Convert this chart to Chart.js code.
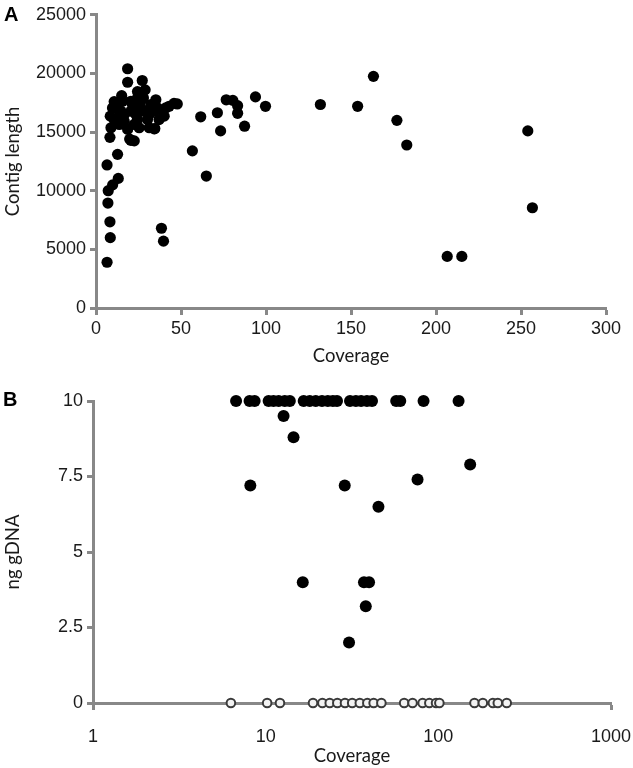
<!DOCTYPE html>
<html lang="en">
<head>
<meta charset="UTF-8">
<title>Coverage vs contig length and gDNA input</title>
<script src="https://cdn.jsdelivr.net/npm/chart.js"></script>
<style>
  body { margin: 0; background: #fff; }
  .page { position: relative; width: 633px; height: 768px; overflow: hidden; }
  .panel { position: absolute; left: 0; }
  #panelA { top: 0; }
  #panelB { top: 370px; }
  .tag {
    position: absolute;
    font-family: 'Liberation Sans', Arial, sans-serif;
    font-weight: bold;
    font-size: 20px;
    color: #000;
    line-height: 1;
  }
</style>
</head>
<body>
<div class="page">
  <canvas id="panelA" class="panel" width="633" height="370"></canvas>
  <canvas id="panelB" class="panel" width="633" height="398"></canvas>
  <div class="tag" style="left:4px; top:4px;">A</div>
  <div class="tag" style="left:3px; top:389px;">B</div>
</div>

<script>
// Panel A: coverage vs contig length
const coverageA = [
  6.5, 8.4, 8.2, 7.0, 7.2, 9.8, 13.1, 6.5, 12.7, 8.2,
  38.5, 39.7,
  18.6, 18.6, 27.2, 28.9, 24.4, 15.1, 10.7, 35.2, 45.9, 47.8, 19.8, 22.5, 34.6,
  9.7, 8.4, 8.8, 12.7, 14.7, 16.6, 20.5, 21.5, 23.5, 26.4, 28.3, 30.3, 31.3, 34.2,
  36.2, 39.1, 41.0, 43.0, 40.1, 37.1, 31.3, 25.4, 22.5, 18.6, 26.4, 20.5, 13.7,
  16.6, 13.7, 10.7, 24.4, 32.3, 12.7, 15.6, 27.9, 24.4, 20.5, 34.2,
  56.7, 61.6, 64.9, 71.4, 73.3, 76.6, 80.5, 83.3, 83.3, 87.4, 93.8, 99.7,
  132, 153.9, 163.2, 177, 182.8, 206.6, 215.2, 254, 256.7
];
const contigLength = [
  3900, 6000, 7350, 8950, 10000, 10500, 11050, 12200, 13100, 14550,
  6800, 5700,
  20400, 19250, 19400, 18600, 18450, 18100, 17600, 17750, 17450, 17400, 14400, 14250, 15300,
  17060, 16360, 15370, 16210, 16780, 16500, 16780, 17340, 16500, 17060, 16780, 16070, 16500, 16780,
  17060, 16780, 17060, 17200, 16360, 16070, 15370, 15370, 15650, 15230, 17630, 17630, 17490,
  15930, 15650, 16070, 16070, 17340, 17060, 17630, 17900, 17900, 14300, 15280,
  13400, 16300, 11250, 16650, 15100, 17750, 17700, 17250, 16600, 15500, 18000, 17200,
  17350, 17200, 19750, 16000, 13900, 4400, 4400, 15100, 8550
];
const xTicksA = [0, 50, 100, 150, 200, 250, 300];
const yTicksA = [0, 5000, 10000, 15000, 20000, 25000];

// Panel B: coverage vs ng gDNA (log x axis)
const coverageB = [
  6.74, 8.07, 8.63, 10.4, 11.1, 11.9, 12.9, 13.8, 16.6, 18.0, 19.5, 21.2,
  22.9, 24.5, 25.9, 30.8, 33.3, 35.7, 38.6, 41.3, 57.0, 60.2, 82.1, 131,
  12.7, 14.5, 8.15, 16.4, 28.7, 45.0, 75.8, 152.9, 37.1, 39.7, 38.0, 30.4
];
const gDnaB = [
  10, 10, 10, 10, 10, 10, 10, 10, 10, 10, 10, 10,
  10, 10, 10, 10, 10, 10, 10, 10, 10, 10, 10, 10,
  9.5, 8.8, 7.2, 4.0, 7.2, 6.5, 7.4, 7.9, 4.0, 4.0, 3.2, 2.0
];
const coverageZero = [
  6.29, 10.2, 12.1, 18.8, 21.3, 23.5, 26.0, 28.8, 31.7, 35.1, 38.8, 42.2,
  46.8, 63.4, 70.9, 81.1, 88.7, 97.0, 101.4, 161.9, 181, 207, 221, 249
];
const xTicksB = [1, 10, 100, 1000];
const yTicksB = [0, 2.5, 5, 7.5, 10];

const axisGray = '#888888';
const tickFont = { family: "'Liberation Sans', Arial, sans-serif", size: 18 };
const titleFont = { family: "Lato, 'Open Sans', sans-serif", size: 18.5 };
const textColor = '#1a1a1a';

function toPoints(xs, ys) {
  return xs.map((x, i) => ({ x: x, y: ys[i] }));
}

function fixTicks(values) {
  return function (scale) {
    scale.ticks = values.map(v => ({ value: v }));
  };
}

// fixed axis height, and no extra side padding for the end labels
function fitX(height) {
  return function (scale) {
    scale.height = height;
    scale.paddingLeft = 0;
    scale.paddingRight = 0;
  };
}

// Panel A
new Chart(document.getElementById('panelA'), {
  type: 'scatter',
  data: {
    datasets: [{
      data: toPoints(coverageA, contigLength),
      backgroundColor: '#000',
      borderWidth: 0,
      pointRadius: 5.6,
      clip: false
    }]
  },
  options: {
    responsive: false,
    animation: false,
    devicePixelRatio: 1,
    layout: { padding: { top: 13, right: 27, left: 0, bottom: 0 } },
    plugins: { legend: { display: false }, tooltip: { enabled: false } },
    scales: {
      x: {
        type: 'linear',
        min: 0,
        max: 300,
        afterBuildTicks: fixTicks(xTicksA),
        afterFit: fitX(62),
        grid: { drawOnChartArea: false, tickLength: 7, tickColor: axisGray, tickWidth: 3 },
        border: { color: axisGray, width: 3 },
        ticks: { font: tickFont, color: textColor, padding: 3, maxRotation: 0, callback: v => String(v) },
        title: { display: true, text: 'Coverage', font: titleFont, color: textColor, padding: { top: 0, bottom: 3 } }
      },
      y: {
        type: 'linear',
        min: 0,
        max: 25000,
        afterBuildTicks: fixTicks(yTicksA),
        afterFit: s => { s.width = 96; },
        grid: { drawOnChartArea: false, tickLength: 6, tickColor: axisGray, tickWidth: 3 },
        border: { color: axisGray, width: 3 },
        ticks: { font: tickFont, color: textColor, padding: 4, callback: v => String(v) },
        title: { display: true, text: 'Contig length', font: titleFont, color: textColor, padding: { top: 2, bottom: 0 } }
      }
    }
  }
});

// Panel B
new Chart(document.getElementById('panelB'), {
  type: 'scatter',
  data: {
    datasets: [{
      data: toPoints(coverageZero, coverageZero.map(() => 0)),
      backgroundColor: '#f2f2f2',
      borderColor: '#3a3a3a',
      borderWidth: 2,
      pointRadius: 4.3,
      clip: false
    }, {
      data: toPoints(coverageB, gDnaB),
      backgroundColor: '#000',
      borderWidth: 0,
      pointRadius: 6,
      clip: false
    }]
  },
  options: {
    responsive: false,
    animation: false,
    devicePixelRatio: 1,
    layout: { padding: { top: 31, right: 22, left: 0, bottom: 0 } },
    plugins: { legend: { display: false }, tooltip: { enabled: false } },
    scales: {
      x: {
        type: 'logarithmic',
        min: 1,
        max: 1000,
        afterBuildTicks: fixTicks(xTicksB),
        afterFit: fitX(65),
        grid: {
          drawOnChartArea: false,
          tickLength: 7,
          tickWidth: 3,
          tickColor: c => (c.tick && (c.tick.value === 1 || c.tick.value === 1000)) ? axisGray : 'rgba(0,0,0,0)'
        },
        border: { color: axisGray, width: 3 },
        ticks: { font: tickFont, color: textColor, padding: 16, maxRotation: 0, autoSkip: false, callback: v => String(v) },
        title: { display: true, text: 'Coverage', font: titleFont, color: textColor, padding: { top: 0, bottom: 1 } }
      },
      y: {
        type: 'linear',
        min: 0,
        max: 10,
        afterBuildTicks: fixTicks(yTicksB),
        afterFit: s => { s.width = 93; },
        grid: { drawOnChartArea: false, tickLength: 6, tickColor: axisGray, tickWidth: 3 },
        border: { color: axisGray, width: 3 },
        ticks: { font: tickFont, color: textColor, padding: 4, callback: v => String(v) },
        title: { display: true, text: 'ng gDNA', font: titleFont, color: textColor, padding: { top: 2, bottom: 0 } }
      }
    }
  }
});
</script>
</body>
</html>
